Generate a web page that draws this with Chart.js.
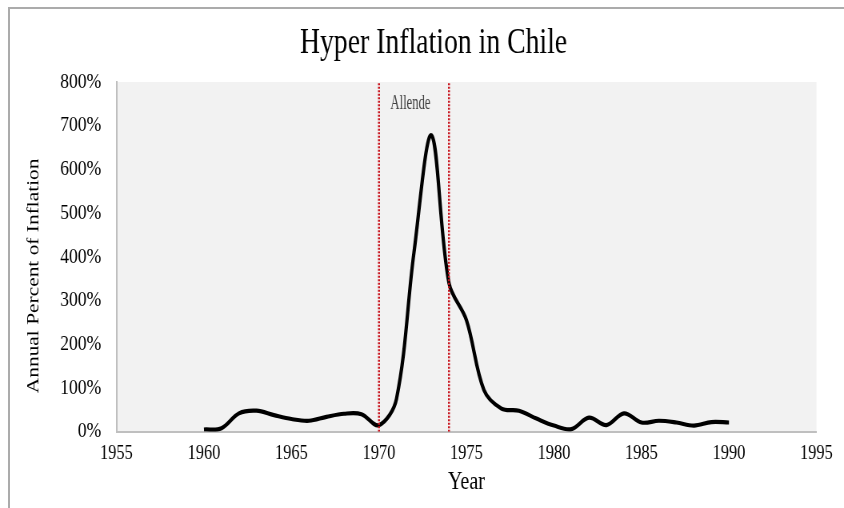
<!DOCTYPE html>
<html>
<head>
<meta charset="utf-8">
<script src="https://cdn.jsdelivr.net/npm/chart.js@4.4.1/dist/chart.umd.min.js"></script>
<style>
    html, body { margin: 0; padding: 0; background: #fff; overflow: hidden; }
    #frame { position: absolute; left: 8px; top: 7px; width: 900px; height: 600px; border-top: 2px solid #ababab; border-left: 2px solid #ababab; }
    #wrap { position: absolute; left: 0; top: 0; width: 1055px; height: 508px; transform: scaleX(0.8); transform-origin: 0 0; }
</style>
</head>
<body>
<div id="frame"></div>
<div id="wrap"><canvas id="myChart"></canvas></div>
<script>
const years = [1960, 1961, 1962, 1963, 1964, 1965, 1966, 1967, 1968, 1969, 1970, 1971, 1972, 1973, 1974, 1975,
    1976, 1977, 1978, 1979, 1980, 1981, 1982, 1983, 1984, 1985, 1986, 1987, 1988, 1989, 1990];
const inflation = [5, 8, 42, 48, 38, 29, 25, 34, 41, 40, 15, 75, 410, 678, 340, 255,
    95, 53, 48, 30, 14, 6, 32, 15, 42, 21, 25, 21, 14, 22, 21];
const allendeYears = [1970, 1974];
const allendeLabel = 'Allende';
const xTicks = [1955, 1960, 1965, 1970, 1975, 1980, 1985, 1990, 1995];
const yTicks = [0, 100, 200, 300, 400, 500, 600, 700, 800];
const chartTitle = 'Hyper Inflation in Chile';
const yTitle = 'Annual Percent of Inflation';

const serif = '"Liberation Serif", "Times New Roman", serif';

// fond gris de la zone de tracé
const plotBackground = {
    id: 'plotBackground',
    beforeDraw(chart) {
        const a = chart.chartArea;
        chart.ctx.save();
        chart.ctx.fillStyle = '#f2f2f2';
        chart.ctx.fillRect(a.left, a.top, a.right - a.left, a.bottom - a.top);
        chart.ctx.restore();
    }
};

// texte dessiné à une largeur donnée (la police d'origine est plus étroite)
function narrowText(ctx, text, x, y, font, color, width) {
    ctx.save();
    ctx.font = font;
    ctx.fillStyle = color;
    ctx.textAlign = 'center';
    ctx.textBaseline = 'alphabetic';
    const w = ctx.measureText(text).width;
    ctx.translate(x, y);
    ctx.scale(width / w, 1);
    ctx.fillText(text, 0, 0);
    ctx.restore();
}

// titre, titre de l'axe Y et étiquette "Allende"
const extraText = {
    id: 'extraText',
    afterDraw(chart) {
        const ctx = chart.ctx;
        const a = chart.chartArea;
        const x = chart.scales.x;
        const y = chart.scales.y;

        narrowText(ctx, chartTitle, 542, 53, '36px ' + serif, '#000', 334);

        ctx.save();
        ctx.fillStyle = '#000';
        ctx.font = '21.4px ' + serif;
        ctx.textAlign = 'center';
        ctx.textBaseline = 'middle';
        ctx.translate(42.5, (a.top + a.bottom) / 2 + 19);
        ctx.rotate(-Math.PI / 2);
        ctx.fillText(yTitle, 0, 0);
        ctx.restore();

        narrowText(ctx, allendeLabel, x.getPixelForValue((allendeYears[0] + allendeYears[1]) / 2 - 0.2),
            y.getPixelForValue(739), '22px ' + serif, '#404040', 50);
    }
};

document.addEventListener('DOMContentLoaded', function() {
    const ctx = document.getElementById('myChart').getContext('2d');
    const points = years.map((yr, i) => ({ x: yr, y: inflation[i] }));
    const redLine = yr => ({
        data: [{ x: yr, y: yTicks[0] }, { x: yr, y: yTicks[yTicks.length - 1] }],
        borderColor: '#c8141e',
        borderWidth: 2.5,
        borderDash: [2, 1.5],
        pointRadius: 0,
        tension: 0,
        order: 0
    });

    new Chart(ctx, {
        type: 'line',
        data: {
            datasets: [
                redLine(allendeYears[0]),
                redLine(allendeYears[1]),
                {
                    label: 'Inflation',
                    data: points,
                    borderColor: '#000',
                    borderWidth: 4.2,
                    pointRadius: 0,
                    tension: 0.35,
                    order: 1
                }
            ]
        },
        options: {
            responsive: true,
            maintainAspectRatio: false,
            animation: false,
            layout: { padding: { left: 0, right: 34.4, top: 82, bottom: 0 } },
            plugins: {
                legend: { display: false },
                tooltip: { enabled: false },
                title: { display: false }
            },
            scales: {
                x: {
                    type: 'linear',
                    min: xTicks[0],
                    max: xTicks[xTicks.length - 1],
                    afterFit: function(scale) { scale.height = 76.3; },
                    afterBuildTicks: function(scale) { scale.ticks = xTicks.map(v => ({ value: v })); },
                    grid: { display: false, drawTicks: false },
                    border: { display: true, color: '#bfbfbf', width: 2 },
                    ticks: {
                        color: '#000',
                        padding: 10,
                        maxRotation: 0,
                        font: { family: serif, size: 20.5 },
                        callback: v => String(v)
                    },
                    title: {
                        display: true,
                        text: 'Year',
                        color: '#000',
                        font: { family: serif, size: 25 },
                        padding: { top: 0, bottom: 11 }
                    }
                },
                y: {
                    min: yTicks[0],
                    max: yTicks[yTicks.length - 1],
                    afterFit: function(scale) { scale.width = 145.6; },
                    afterBuildTicks: function(scale) { scale.ticks = yTicks.map(v => ({ value: v })); },
                    grid: { display: false, drawTicks: false },
                    border: { display: true, color: '#bfbfbf', width: 2 },
                    ticks: {
                        color: '#000',
                        padding: 19,
                        font: { family: serif, size: 22 },
                        callback: v => v + '%'
                    }
                }
            }
        },
        plugins: [plotBackground, extraText]
    });
});
</script>
</body>
</html>
